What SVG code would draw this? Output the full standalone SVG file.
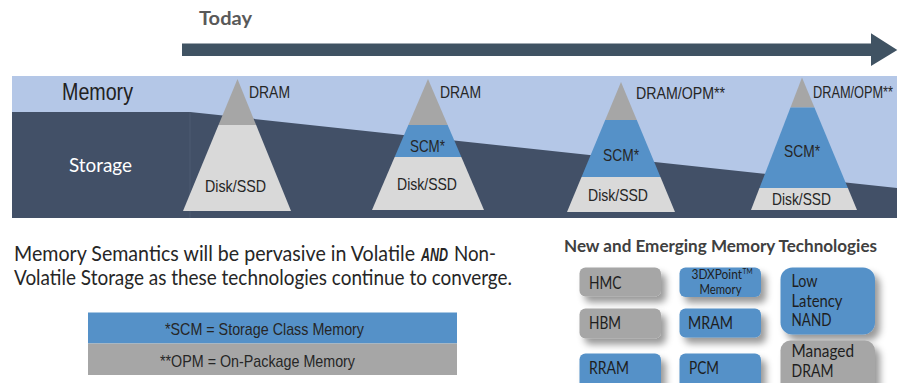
<svg xmlns="http://www.w3.org/2000/svg" width="903" height="383" viewBox="0 0 903 383">
<style>
.nar{font-family:"Liberation Sans",Arial,sans-serif;fill:#262626;font-size:17px}
.cal{font-family:Lato,"Open Sans",sans-serif;fill:#262626}
.gray{fill:#a6a6a6}
.light{fill:#d9d9d9}
.blue{fill:#5591c8}
.box{fill:#a6a6a6;filter:url(#sh)}
.bbox{fill:#5591c8;filter:url(#sh)}
.bt{font-family:Lato,"Open Sans",sans-serif;fill:#1e1e1e;font-size:18px}
</style>
<defs>
<filter id="sh" x="-20%" y="-20%" width="160%" height="170%">
<feDropShadow dx="5" dy="6" stdDeviation="3.5" flood-color="#000" flood-opacity="0.4"/>
</filter>
<clipPath id="c1"><polygon points="237.5,79 183,211 291,211"/></clipPath>
<clipPath id="c2"><polygon points="428,79 372,210 484,210"/></clipPath>
<clipPath id="c3"><polygon points="621,82 567,212 675,212"/></clipPath>
<clipPath id="c4"><polygon points="802,77.5 751,210 857,210"/></clipPath>
</defs>
<rect width="903" height="383" fill="#ffffff"/>

<g id="background">
<rect x="12" y="76" width="885" height="142" fill="#b4c7e7"/>
<polygon points="12,112 190,112 897,188 897,218 12,218" fill="#425067"/>
<line x1="190" y1="112" x2="190" y2="218" stroke="#4d5b72" stroke-width="1"/>
<text x="62" y="100" class="nar" style="font-size:24px;fill:#222" textLength="71" lengthAdjust="spacingAndGlyphs">Memory</text>
<text x="69" y="172" class="cal" style="font-size:20px;fill:#ffffff" textLength="63" lengthAdjust="spacingAndGlyphs">Storage</text>
</g>

<g id="connectors">
<polygon points="182,43.5 871,43.5 871,33.3 897.3,50 871,66 871,56 182,56" fill="#405363"/>
<text x="199" y="25" class="cal" style="font-size:19px;font-weight:bold;fill:#595959" textLength="53" lengthAdjust="spacingAndGlyphs">Today</text>
</g>

<g id="node-today">
<g clip-path="url(#c1)">
<rect x="180" y="70" width="115" height="55" class="gray"/>
<rect x="180" y="125" width="115" height="90" class="light"/>
</g>
<text x="249" y="98" class="nar" textLength="41" lengthAdjust="spacingAndGlyphs">DRAM</text>
<text x="205" y="191.5" class="nar" textLength="61" lengthAdjust="spacingAndGlyphs">Disk/SSD</text>
</g>

<g id="node-stage2">
<g clip-path="url(#c2)">
<rect x="370" y="70" width="118" height="55" class="gray"/>
<rect x="370" y="125" width="118" height="32" class="blue"/>
<rect x="370" y="157" width="118" height="58" class="light"/>
</g>
<text x="440" y="98" class="nar" textLength="41" lengthAdjust="spacingAndGlyphs">DRAM</text>
<text x="410" y="151.5" class="nar" textLength="35" lengthAdjust="spacingAndGlyphs">SCM*</text>
<text x="397" y="189.5" class="nar" textLength="60" lengthAdjust="spacingAndGlyphs">Disk/SSD</text>
</g>

<g id="node-stage3">
<g clip-path="url(#c3)">
<rect x="565" y="75" width="112" height="45" class="gray"/>
<rect x="565" y="120" width="112" height="57" class="blue"/>
<rect x="565" y="177" width="112" height="38" class="light"/>
</g>
<text x="636" y="99" class="nar" textLength="89" lengthAdjust="spacingAndGlyphs">DRAM/OPM**</text>
<text x="603" y="160.5" class="nar" textLength="36" lengthAdjust="spacingAndGlyphs">SCM*</text>
<text x="588" y="200.5" class="nar" textLength="60" lengthAdjust="spacingAndGlyphs">Disk/SSD</text>
</g>

<g id="node-stage4">
<g clip-path="url(#c4)">
<rect x="748" y="72" width="112" height="35.5" class="gray"/>
<rect x="748" y="107.5" width="112" height="80.5" class="blue"/>
<rect x="748" y="188" width="112" height="25" class="light"/>
</g>
<text x="813" y="98" class="nar" style="font-size:16px" textLength="80" lengthAdjust="spacingAndGlyphs">DRAM/OPM**</text>
<text x="784" y="157" class="nar" textLength="36" lengthAdjust="spacingAndGlyphs">SCM*</text>
<text x="772" y="205" class="nar" textLength="59" lengthAdjust="spacingAndGlyphs">Disk/SSD</text>
</g>

<g id="statement">
<text x="14" y="261" class="cal" style="font-size:20.5px" textLength="401" lengthAdjust="spacingAndGlyphs">Memory Semantics will be pervasive in Volatile</text>
<text x="421" y="261" style="font-family:'Liberation Sans',Arial,sans-serif;font-size:19px;font-weight:bold;font-style:italic;fill:#262626" textLength="27" lengthAdjust="spacingAndGlyphs">AND</text>
<text x="454" y="261" class="cal" style="font-size:20.5px" textLength="42" lengthAdjust="spacingAndGlyphs">Non-</text>
<text x="14" y="285" class="cal" style="font-size:20.5px" textLength="498" lengthAdjust="spacingAndGlyphs">Volatile Storage as these technologies continue to converge.</text>
</g>

<g id="legend">
<rect x="88" y="312.5" width="369" height="31" fill="#5591c8"/>
<rect x="88" y="343.5" width="369" height="31.5" fill="#a6a6a6"/>
<text x="165" y="335" class="nar" textLength="199" lengthAdjust="spacingAndGlyphs">*SCM = Storage Class Memory</text>
<text x="160" y="366.5" class="nar" textLength="195" lengthAdjust="spacingAndGlyphs">**OPM = On-Package Memory</text>
</g>

<g id="tech-heading">
<text x="564" y="252" class="cal" style="font-size:17px;font-weight:bold;fill:#404040" textLength="313" lengthAdjust="spacingAndGlyphs">New and Emerging Memory Technologies</text>
</g>

<g id="node-hmc">
<rect x="579.5" y="267.5" width="81.5" height="29" rx="6" class="box"/>
<text x="589" y="288.5" class="bt" textLength="32.5" lengthAdjust="spacingAndGlyphs">HMC</text>
</g>
<g id="node-hbm">
<rect x="579.5" y="308.5" width="81.5" height="30" rx="6" class="box"/>
<text x="589" y="329" class="bt" textLength="32" lengthAdjust="spacingAndGlyphs">HBM</text>
</g>
<g id="node-rram">
<rect x="579.5" y="353.5" width="81.5" height="40" rx="6" class="bbox"/>
<text x="589" y="374" class="bt" textLength="40" lengthAdjust="spacingAndGlyphs">RRAM</text>
</g>
<g id="node-3dxpoint">
<rect x="679.5" y="267.5" width="81.5" height="29.5" rx="6" class="bbox"/>
<text x="691.5" y="279" class="bt" style="font-size:12.5px" textLength="50.5" lengthAdjust="spacingAndGlyphs">3DXPoint</text>
<text x="742.5" y="274" class="bt" style="font-size:8px" textLength="10" lengthAdjust="spacingAndGlyphs">TM</text>
<text x="699.5" y="293.5" class="bt" style="font-size:12.5px" textLength="42" lengthAdjust="spacingAndGlyphs">Memory</text>
</g>
<g id="node-mram">
<rect x="679.5" y="308.5" width="81.5" height="29" rx="6" class="bbox"/>
<text x="688" y="329" class="bt" textLength="45" lengthAdjust="spacingAndGlyphs">MRAM</text>
</g>
<g id="node-pcm">
<rect x="679.5" y="353.5" width="81.5" height="40" rx="6" class="bbox"/>
<text x="689" y="374" class="bt" textLength="30" lengthAdjust="spacingAndGlyphs">PCM</text>
</g>
<g id="node-nand">
<rect x="780.5" y="267.5" width="94.5" height="67" rx="12" class="bbox"/>
<text x="791.5" y="286.5" class="bt" textLength="26" lengthAdjust="spacingAndGlyphs">Low</text>
<text x="791.5" y="306.5" class="bt" textLength="51" lengthAdjust="spacingAndGlyphs">Latency</text>
<text x="791.5" y="325.5" class="bt" textLength="40" lengthAdjust="spacingAndGlyphs">NAND</text>
</g>
<g id="node-managed-dram">
<rect x="780.5" y="340.5" width="94.5" height="52" rx="10" class="box"/>
<text x="791.5" y="357" class="bt" textLength="62.5" lengthAdjust="spacingAndGlyphs">Managed</text>
<text x="791.5" y="377" class="bt" textLength="42" lengthAdjust="spacingAndGlyphs">DRAM</text>
</g>
</svg>
